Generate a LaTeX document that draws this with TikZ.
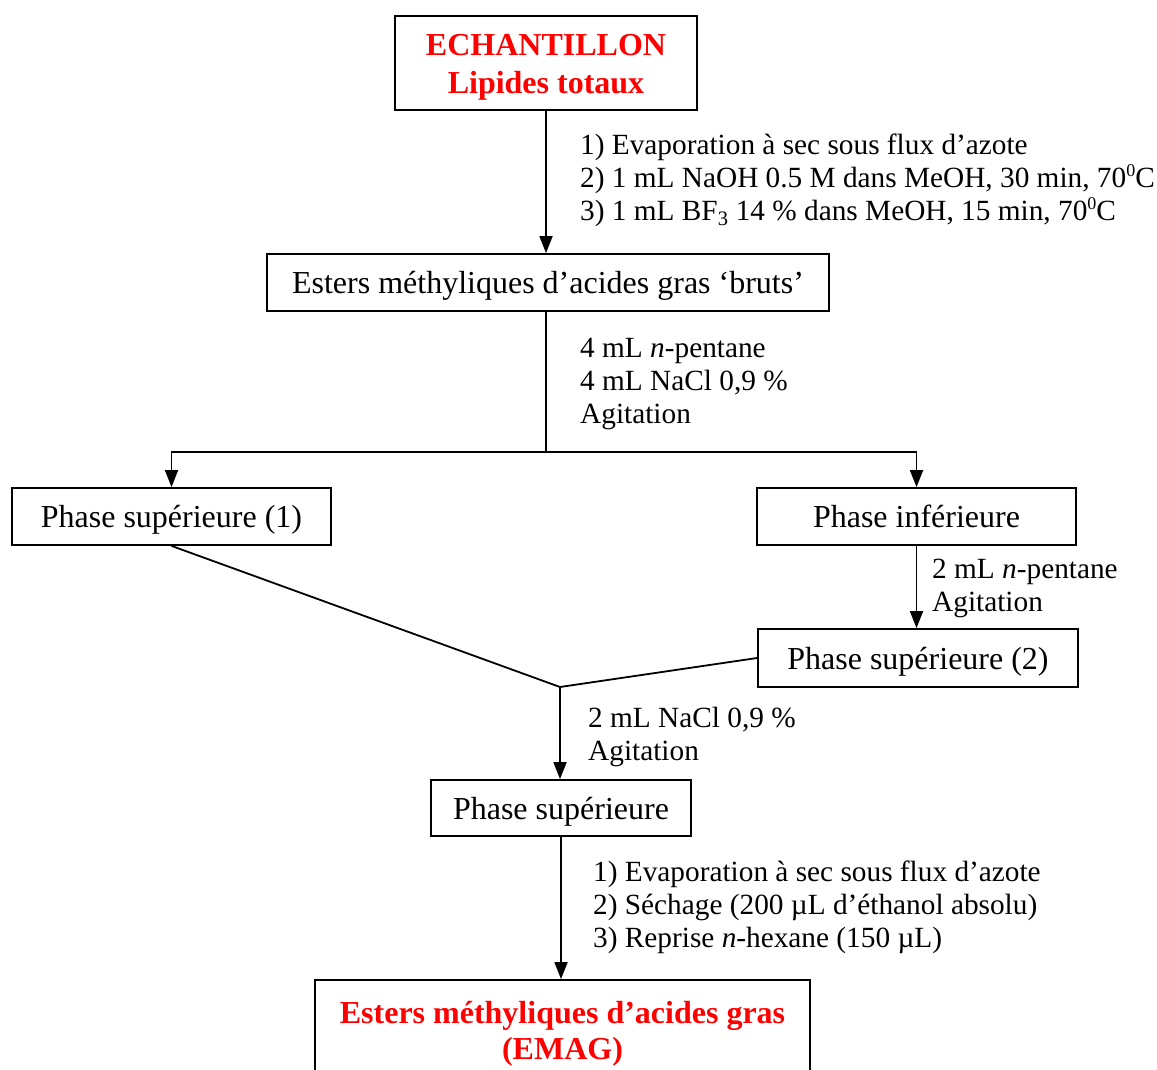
\documentclass[tikz,border=0pt]{standalone}
\usepackage{fontspec}
\setmainfont{Liberation Serif}
\usetikzlibrary{arrows.meta}
\newcommand{\degsup}{\raisebox{0.85ex}{\fontsize{18}{18}\selectfont 0}}
\begin{document}
\begin{tikzpicture}[x=1pt,y=-1pt,
  every node/.style={font=\fontsize{32}{33}\selectfont},
  box/.style={draw,line width=1.8pt,inner sep=0pt,align=center,text height=29pt,text depth=7pt},
  redtxt/.style={text=red,font=\fontsize{32}{38}\selectfont\bfseries},
  note/.style={anchor=west,align=left,inner sep=0pt,font=\fontsize{29.3}{33}\selectfont},
  conn/.style={line width=1.8pt},
  arr/.style={line width=1.8pt,-{Triangle[length=17pt,width=13pt]}}]
\useasboundingbox (0,0) rectangle (1157,1070);
\fill[white] (0,0) rectangle (1157,1070);
\node[box,redtxt,minimum width=302pt,minimum height=94pt,text height=69pt,text depth=7pt] (b1) at (546,63) {ECHANTILLON\\Lipides totaux};
\node[box,minimum width=562pt,minimum height=57pt] (b2) at (548,282.5) {Esters méthyliques d’acides gras ‘bruts’};
\node[box,minimum width=319pt,minimum height=57pt] (b3) at (171.5,516.5) {Phase supérieure (1)};
\node[box,minimum width=319pt,minimum height=57pt] (b4) at (916.5,516.5) {Phase inférieure};
\node[box,minimum width=320pt,minimum height=58pt] (b5) at (918,658) {Phase supérieure (2)};
\node[box,minimum width=260pt,minimum height=56pt] (b6) at (561,808) {Phase supérieure};
\node[draw,line width=1.8pt,minimum width=495pt,minimum height=100pt] (b7) at (562.5,1030) {};
\node[redtxt,align=center,anchor=center,inner sep=0pt] (t7) at (562.5,1034) {Esters méthyliques d’acides gras\\[-2pt](EMAG)};

\node[note] (n1) at (580,180.5) {1) Evaporation à sec sous flux d’azote\\2) 1 mL NaOH 0.5 M dans MeOH, 30 min, 70\degsup C\\3) 1 mL BF\textsubscript{3} 14 \% dans MeOH, 15 min, 70\degsup C};
\node[note] (n2) at (580,384.5) {4 mL \textit{n}-pentane\\4 mL NaCl 0,9 \%\\Agitation};
\node[note] (n3) at (932,588) {2 mL \textit{n}-pentane\\Agitation};
\node[note] (n4) at (588,737) {2 mL NaCl 0,9 \%\\Agitation};
\node[note] (n5) at (593,907.5) {1) Evaporation à sec sous flux d’azote\\2) Séchage (200 µL d’éthanol absolu)\\3) Reprise \textit{n}-hexane (150 µL)};

\coordinate (split) at (546,452);
\coordinate (join) at (560,687);
\draw[arr] (b1.south) -- (b1.south |- b2.north);
\draw[conn] (b2.south -| split) -- (split);
\draw[arr] (split) -| (b3.north);
\draw[arr] (split) -| (b4.north);
\draw[arr] (b4.south) -- (b4.south |- b5.north);
\draw[conn] (b3.south) -- (join);
\draw[conn] (b5.west) -- (join);
\draw[arr] (join) -- (join |- b6.north);
\draw[arr] (b6.south) -- (b6.south |- b7.north);
\end{tikzpicture}
\end{document}
